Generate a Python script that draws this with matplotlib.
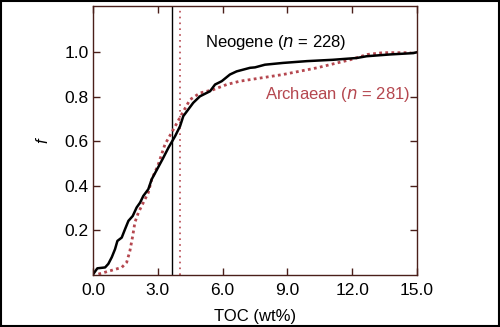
import matplotlib.pyplot as plt
from matplotlib.patches import Rectangle

plt.rcParams["font.family"] = ["Liberation Sans", "DejaVu Sans"]

# cumulative fraction curves, TOC (wt%) vs f
neogene_toc = [0.01, 0.2, 0.56, 0.71, 0.87, 1.02, 1.13, 1.33, 1.48, 1.64, 1.84,
               2.02, 2.18, 2.33, 2.56, 2.72, 3.22, 3.49, 3.8, 4.03, 4.18, 4.41,
               4.64, 4.95, 5.42, 5.65, 5.96, 6.34, 6.65, 7.27, 7.5, 7.96, 8.8,
               9.9, 11.1, 12.2, 12.67, 13.75, 14.83, 15.0]
neogene_f = [0.004, 0.03, 0.034, 0.05, 0.08, 0.116, 0.153, 0.168, 0.205, 0.243,
             0.265, 0.303, 0.325, 0.355, 0.385, 0.43, 0.52, 0.571, 0.623, 0.668,
             0.713, 0.743, 0.773, 0.802, 0.825, 0.855, 0.87, 0.9, 0.914, 0.93,
             0.932, 0.944, 0.952, 0.96, 0.966, 0.974, 0.982, 0.99, 0.996, 1.0]

archaean_toc = [0.25, 0.79, 1.33, 1.56, 1.71, 1.84, 1.94, 2.1, 2.33, 2.56, 2.72,
                3.0, 3.33, 3.72, 4.1, 4.49, 4.95, 5.57, 6.19, 6.8, 7.27, 8.8,
                10.37, 11.9, 12.7, 13.43, 14.7]
archaean_f = [0.004, 0.019, 0.034, 0.057, 0.109, 0.176, 0.236, 0.28, 0.325,
              0.37, 0.43, 0.49, 0.586, 0.653, 0.72, 0.787, 0.817, 0.832, 0.855,
              0.87, 0.877, 0.9, 0.93, 0.966, 0.99, 0.998, 0.998]

neogene_mean = 3.66
archaean_mean = 4.03

xticks = [0, 3, 6, 9, 12, 15]
yticks = [0.2, 0.4, 0.6, 0.8, 1.0]

RED = "#b5474f"
SPINE = "#4a1f1a"

fig = plt.figure(figsize=(5.0, 3.27), dpi=100)
ax = fig.add_axes([0.186, 0.159, 0.648, 0.823])

ax.axvline(neogene_mean, color="black", lw=1.0)
ax.axvline(archaean_mean, color=RED, lw=1.2, ls=(0, (1, 2.5)))
ax.plot(archaean_toc, archaean_f, color=RED, lw=2.0, ls=(0, (1, 1.2)))
ax.plot(neogene_toc, neogene_f, color="black", lw=1.8)

ax.set_xlim(0, 15)
ax.set_ylim(0, 1.208)
ax.set_xticks(xticks)
ax.set_xticklabels([f"{t:.1f}" for t in xticks])
ax.set_yticks(yticks)
ax.set_yticklabels([f"{t:.1f}" for t in yticks])
ax.tick_params(direction="in", top=True, right=True, length=5, width=1,
               color=SPINE, labelsize=12.5)
ax.tick_params(axis="x", pad=6)
ax.tick_params(axis="y", pad=3)
for s in ax.spines.values():
    s.set_color(SPINE)
    s.set_linewidth(1.0)

ax.set_xlabel("TOC (wt%)", fontsize=12, labelpad=8)
ax.set_ylabel("f", fontsize=12, style="italic", rotation=90, labelpad=10)

ax.text(8.47, 1.045, r"Neogene ($\it{n}$ = 228)", fontsize=12, ha="center", va="center")
ax.text(7.96, 0.81, r"Archaean ($\it{n}$ = 281)", fontsize=12, ha="left", va="center",
        color=RED)

fig.patches.append(Rectangle((0.001, 0.002), 0.997, 0.996, transform=fig.transFigure,
                             fill=False, edgecolor="black", lw=1.5))

fig.savefig("out.png", dpi=100)
